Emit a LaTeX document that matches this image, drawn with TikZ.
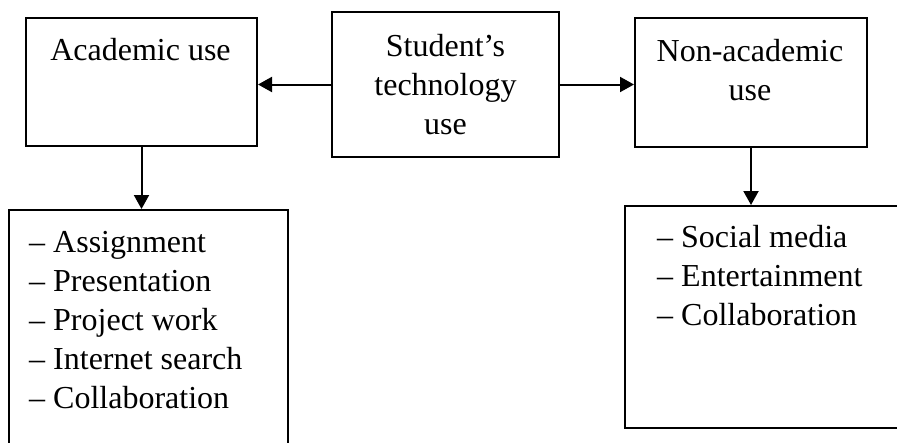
\documentclass[tikz,border=0pt]{standalone}
\usepackage{fontspec}
\setmainfont{Liberation Serif}
\usetikzlibrary{arrows.meta,positioning}

\tikzset{
  box/.style={draw, line width=2pt, inner sep=0pt, anchor=north west},
  txt/.style={font=\fontsize{32}{39}\selectfont, inner sep=0pt, align=center},
  items/.style={font=\fontsize{32}{39}\selectfont, inner sep=0pt, align=left, anchor=base west},
  arr/.style={line width=2pt, -{Triangle[length=14pt,width=15pt]}}
}

\begin{document}
\begin{tikzpicture}[x=1pt, y=-1pt]
    \useasboundingbox (0,0) rectangle (897,442);
    \clip (0,0) rectangle (897,442);
    % top row
    \node[box, minimum width=231, minimum height=128] (acad) at (25,17) {};
    \node[box, minimum width=227, minimum height=145] (stud) at (331,11) {};
    \node[box, minimum width=232, minimum height=129] (nacad) at (634,17) {};
    \node[txt, anchor=base] (acadtxt) at (140.5,60) {Academic use};
    \node[txt] (studtxt) at (stud.center) {Student’s\\technology\\use};
    \node[txt, anchor=base] (nacadtxt) at (750,100) {Non-academic\\use};
	% lists (base is the last line)
    \node[box, minimum width=279, minimum height=260] (alist) at (8,209) {};
    \node[box, minimum width=300, minimum height=222] (nlist) at (624,205) {};
    \node[items] (aitems) at (29,408) {– Assignment\\– Presentation\\– Project work\\– Internet search\\– Collaboration};
    \node[items] (nitems) at (657,325) {– Social media\\– Entertainment\\– Collaboration};
    % arrows
    \draw[arr] (stud.west) -- (stud.west -| acad.east);
    \draw[arr] (stud.east) -- (stud.east -| nacad.west);
    \draw[arr] (acad.south) -- (acad.south |- alist.north);
    \draw[arr] (nacad.south) -- (nacad.south |- nlist.north);
\end{tikzpicture}
\end{document}
